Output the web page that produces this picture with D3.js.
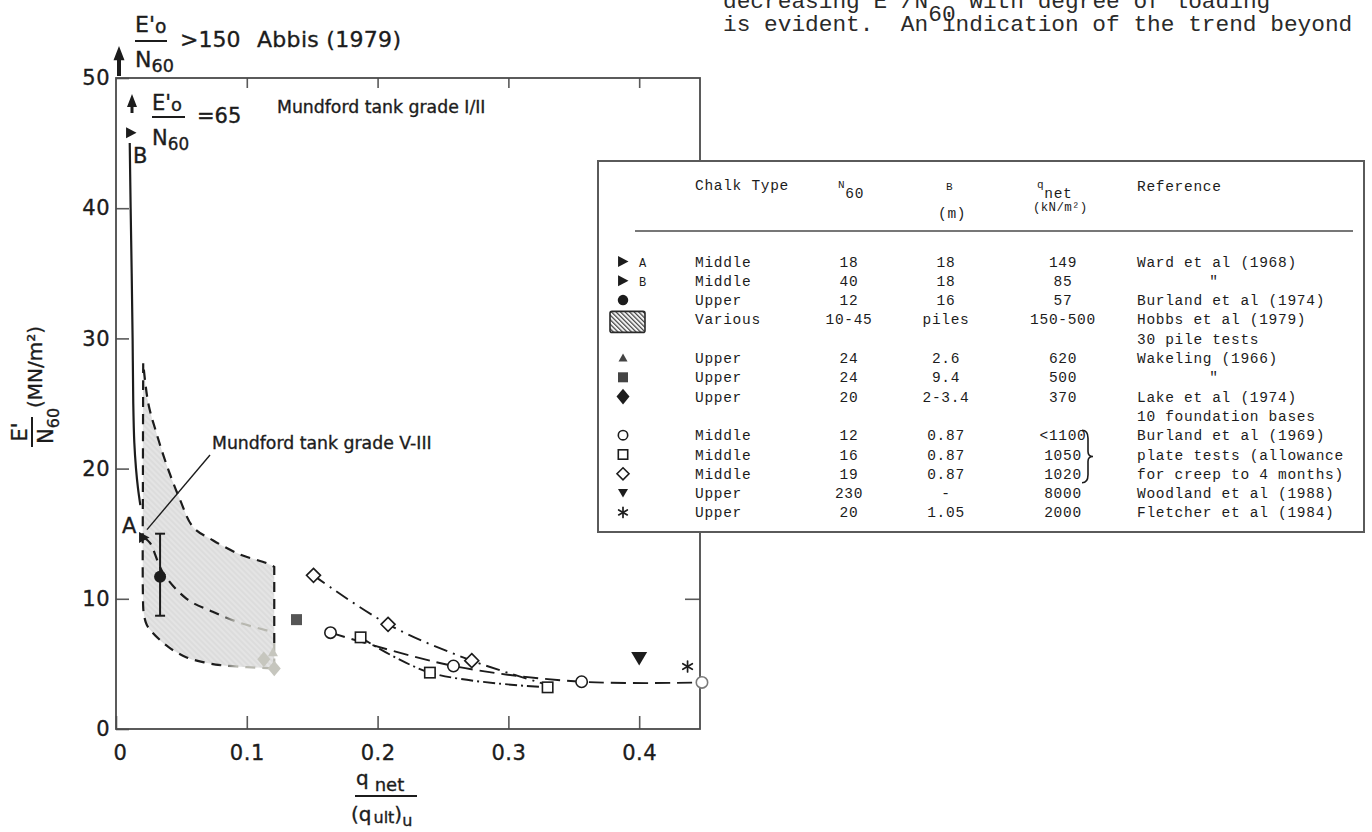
<!DOCTYPE html>
<html>
<head>
<meta charset="utf-8">
<title>E'/N60 against degree of loading</title>
<script src="https://cdn.jsdelivr.net/npm/d3@7"></script>
<style>
  html, body { margin: 0; padding: 0; background: #fff; }
  svg { display: block; }
  .mono { font-family: "Liberation Mono", "DejaVu Sans Mono", monospace; white-space: pre; }
  .sans { font-family: "DejaVu Sans", "Liberation Sans", sans-serif; }
  .heavy text { stroke: #1c1c1c; stroke-width: 0.35px; }
</style>
</head>
<body>
<svg id="fig" width="1372" height="832"></svg>
<script>
// ---------- axis ticks ----------
const xLabelValues = [0, 0.1, 0.2, 0.3, 0.4];
const xTickLabels = ["0", "0.1", "0.2", "0.3", "0.4"];
const yLabelValues = [0, 10, 20, 30, 40, 50];
const yTickLabels = ["0", "10", "20", "30", "40", "50"];

// ---------- series: q_net/(q_ult)_u against E'/N60 ----------
// Ward et al (1968), footing B trend (solid)
const wardCurveQ = [0.0105, 0.0112, 0.0120, 0.0127, 0.0132, 0.0140, 0.0153, 0.0168, 0.0186];
const wardCurveE = [45.0, 40.0, 35.0, 30.0, 25.0, 22.0, 20.0, 18.5, 17.2];
const wardAQ = [0.0214], wardAE = [14.7];
const wardBQ = [0.0115], wardBE = [45.8];

// Burland et al (1974): mean with range
const burland74Q = [0.0337], burland74E = [11.7];
const burland74Low = [8.7], burland74High = [15.0];

// Hobbs et al (1979) pile tests: envelope of 30 tests
const hobbsLowerQ = [0.0208, 0.0206, 0.0206, 0.0212, 0.0235, 0.028, 0.040, 0.054, 0.068, 0.080, 0.100, 0.121];
const hobbsLowerE = [28.1, 20.0, 10.2, 8.9, 8.0, 7.4, 6.3, 5.5, 5.1, 4.9, 4.75, 4.65];
const hobbsRightQ = [0.121, 0.121, 0.121];
const hobbsRightE = [4.65, 6.6, 12.45];
const hobbsUpperQ = [0.121, 0.115, 0.095, 0.074, 0.059, 0.049, 0.039, 0.031, 0.0247, 0.0208];
const hobbsUpperE = [12.45, 12.75, 13.4, 14.5, 15.5, 17.6, 20.2, 22.7, 25.0, 28.1];

// Mundford tank grade V-III trend (dashed)
const mundfordQ = [0.0214, 0.026, 0.036, 0.054, 0.074, 0.095, 0.120];
const mundfordE = [14.7, 14.3, 12.0, 10.0, 9.0, 8.15, 7.45];

// Wakeling (1966)
const wakelingTriQ = [0.120], wakelingTriE = [5.9];
const wakelingSqQ = [0.138], wakelingSqE = [8.4];
// Lake et al (1974)
const lakeQ = [0.113, 0.121], lakeE = [5.35, 4.65];

// Burland et al (1969) plate tests
const circleQ = [0.164, 0.258, 0.356, 0.448], circleE = [7.4, 4.84, 3.63, 3.58];
const squareQ = [0.187, 0.240, 0.330], squareE = [7.04, 4.33, 3.2];
const diamondQ = [0.151, 0.208, 0.272], diamondE = [11.8, 8.04, 5.25];
const diamondTrendQ = [0.151, 0.208, 0.272, 0.328], diamondTrendE = [11.8, 8.04, 5.25, 3.45];

// Woodland et al (1988), Fletcher et al (1984)
const woodlandQ = [0.400], woodlandE = [5.43];
const fletcherQ = [0.437], fletcherE = [4.8];

// ---------- table ----------
const tableSymbols = ["triR", "triR", "circleF", "hatch", "triU", "squareF", "diamondF",
                      "circleO", "squareO", "diamondO", "triD", "star"];
const tableTags = ["A", "B", "", "", "", "", "", "", "", "", "", ""];
const chalkTypes = ["Middle", "Middle", "Upper", "Various", "Upper", "Upper", "Upper",
                    "Middle", "Middle", "Middle", "Upper", "Upper"];
const n60Values = ["18", "40", "12", "10-45", "24", "24", "20", "12", "16", "19", "230", "20"];
const widthValues = ["18", "18", "16", "piles", "2.6", "9.4", "2-3.4", "0.87", "0.87", "0.87", "-", "1.05"];
const qNetValues = ["149", "85", "57", "150-500", "620", "500", "370", "<1100", "1050", "1020", "8000", "2000"];
const references = [
  ["Ward et al (1968)"], ["\""], ["Burland et al (1974)"], ["Hobbs et al (1979)", "30 pile tests"],
  ["Wakeling (1966)"], ["\""], ["Lake et al (1974)", "10 foundation bases"],
  ["Burland et al (1969)"], ["plate tests (allowance"], ["for creep to 4 months)"],
  ["Woodland et al (1988)"], ["Fletcher et al (1984)"]
];

// ---------- setup ----------
const zip = (a, b) => a.map((v, i) => [v, b[i]]);
const INK = "#1c1c1c", FADED = "#b8b8b0", GREY = "#4a4a4a";
const svg = d3.select("#fig");
const defs = svg.append("defs");

const x = d3.scaleLinear().domain([0, 0.4465]).range([116, 700]);
const y = d3.scaleLinear().domain([0, 50]).range([729, 78]);
const smooth = d3.line().x(d => x(d[0])).y(d => y(d[1])).curve(d3.curveCatmullRom.alpha(0.5));
const straight = d3.line().x(d => x(d[0])).y(d => y(d[1]));

// patterns and gradient
const hatchLegend = defs.append("pattern").attr("id", "hatchLegend")
  .attr("patternUnits", "userSpaceOnUse").attr("width", 3.2).attr("height", 3.2)
  .attr("patternTransform", "rotate(-45)");
hatchLegend.append("rect").attr("width", 3.2).attr("height", 3.2).attr("fill", "#f4f4f4");
hatchLegend.append("line").attr("x1", 0.6).attr("x2", 0.6).attr("y1", 0).attr("y2", 3.2)
  .attr("stroke", "#333").attr("stroke-width", 1.1);

const hatchArea = defs.append("pattern").attr("id", "hatchArea")
  .attr("patternUnits", "userSpaceOnUse").attr("width", 4).attr("height", 4)
  .attr("patternTransform", "rotate(-45)");
hatchArea.append("rect").attr("width", 4).attr("height", 4).attr("fill", "#e4e4e4");
hatchArea.append("line").attr("x1", 1).attr("x2", 1).attr("y1", 0).attr("y2", 4)
  .attr("stroke", "#d4d4d4").attr("stroke-width", 1);

const fade = defs.append("linearGradient").attr("id", "fade")
  .attr("gradientUnits", "userSpaceOnUse")
  .attr("x1", x(0.078)).attr("x2", x(0.092)).attr("y1", 0).attr("y2", 0);
fade.append("stop").attr("offset", 0).attr("stop-color", INK);
fade.append("stop").attr("offset", 1).attr("stop-color", FADED);

// ---------- mark drawing ----------
function drawMark(g, type, cx, cy, s, fill, stroke) {
  const sw = 1.6;
  const h = s / 2;
  switch (type) {
    case "triR":
      g.append("path").attr("d", `M${cx - h * 0.9},${cy - h} L${cx + h},${cy} L${cx - h * 0.9},${cy + h}Z`)
        .attr("fill", fill); break;
    case "triU":
      g.append("path").attr("d", `M${cx},${cy - h} L${cx + h},${cy + h * 0.8} L${cx - h},${cy + h * 0.8}Z`)
        .attr("fill", fill); break;
    case "triD":
      g.append("path").attr("d", `M${cx - h},${cy - h * 0.8} L${cx + h},${cy - h * 0.8} L${cx},${cy + h * 0.9}Z`)
        .attr("fill", fill); break;
    case "circleF":
      g.append("circle").attr("cx", cx).attr("cy", cy).attr("r", h).attr("fill", fill); break;
    case "circleO":
      g.append("circle").attr("cx", cx).attr("cy", cy).attr("r", h - 0.8)
        .attr("fill", "#fff").attr("stroke", stroke).attr("stroke-width", sw); break;
    case "squareF":
      g.append("rect").attr("x", cx - h).attr("y", cy - h).attr("width", s).attr("height", s)
        .attr("fill", fill); break;
    case "squareO":
      g.append("rect").attr("x", cx - h + 0.8).attr("y", cy - h + 0.8).attr("width", s - 1.6).attr("height", s - 1.6)
        .attr("fill", "#fff").attr("stroke", stroke).attr("stroke-width", sw); break;
    case "diamondF":
      g.append("path").attr("d", `M${cx},${cy - h * 1.2} L${cx + h},${cy} L${cx},${cy + h * 1.2} L${cx - h},${cy}Z`)
        .attr("fill", fill); break;
    case "diamondO":
      g.append("path").attr("d", `M${cx},${cy - h} L${cx + h},${cy} L${cx},${cy + h} L${cx - h},${cy}Z`)
        .attr("fill", "#fff").attr("stroke", stroke).attr("stroke-width", sw); break;
    case "star": {
      const a = g.append("g").attr("stroke", stroke).attr("stroke-width", 1.7).attr("stroke-linecap", "round");
      [90, 30, 150].forEach(deg => {
        const r = deg * Math.PI / 180;
        a.append("line").attr("x1", cx - h * Math.cos(r)).attr("y1", cy - h * Math.sin(r))
          .attr("x2", cx + h * Math.cos(r)).attr("y2", cy + h * Math.sin(r));
      });
      break;
    }
  }
}

// ---------- axes and frame ----------
const axisFont = g => g.attr("font-family", "DejaVu Sans, Liberation Sans, sans-serif")
  .attr("font-size", 21).attr("fill", INK);

const gBottom = svg.append("g").attr("transform", `translate(0,${y(0)})`)
  .call(d3.axisBottom(x).tickValues(xLabelValues).tickSize(-13).tickPadding(16)
    .tickFormat((d, i) => xTickLabels[i]));
const gLeft = svg.append("g").attr("transform", `translate(${x(0)},0)`)
  .call(d3.axisLeft(y).tickValues(yLabelValues).tickSize(-13).tickPadding(6)
    .tickFormat((d, i) => yTickLabels[i]));
const gTop = svg.append("g").attr("transform", `translate(0,${y(50)})`)
  .call(d3.axisTop(x).tickValues(xLabelValues.slice(1)).tickSize(-10).tickFormat(() => ""));
const gRight = svg.append("g").attr("transform", `translate(${x(0.4465)},0)`)
  .call(d3.axisRight(y).tickValues(yLabelValues.slice(1, 5)).tickSize(-15).tickFormat(() => ""));

[gBottom, gLeft, gTop, gRight].forEach(g => {
  g.select(".domain").remove();
  g.attr("class", "heavy");
  g.selectAll(".tick line").attr("stroke", "#5a5a5a").attr("stroke-width", 1.6);
  g.call(axisFont);
  g.selectAll(".tick text").attr("fill", INK).attr("letter-spacing", 0.5);
});
gBottom.selectAll(".tick text").filter(d => d === 0).attr("dx", 4);

svg.append("rect")
  .attr("x", x(0)).attr("y", y(50))
  .attr("width", x(0.4465) - x(0)).attr("height", y(0) - y(50))
  .attr("fill", "none").attr("stroke", GREY).attr("stroke-width", 1.8);

// ---------- plot content ----------
const plot = svg.append("g");
const hobbsLower = zip(hobbsLowerQ, hobbsLowerE);
const hobbsRight = zip(hobbsRightQ, hobbsRightE);
const hobbsUpper = zip(hobbsUpperQ, hobbsUpperE);
const joinPath = d => d.replace(/^M/, "L");

// shaded envelope of the pile tests
plot.append("path")
  .attr("d", smooth(hobbsLower) + joinPath(straight(hobbsRight)) + joinPath(smooth(hobbsUpper)) + "Z")
  .attr("fill", "url(#hatchArea)").attr("stroke", "none");

const dashOutline = "10,7";
plot.append("path").attr("d", smooth(hobbsLower))
  .attr("fill", "none").attr("stroke", "url(#fade)").attr("stroke-width", 2.2).attr("stroke-dasharray", dashOutline);
plot.append("path").attr("d", straight(hobbsRight.slice(0, 2)))
  .attr("fill", "none").attr("stroke", FADED).attr("stroke-width", 2.2).attr("stroke-dasharray", dashOutline);
plot.append("path").attr("d", straight(hobbsRight.slice(1)) + joinPath(smooth(hobbsUpper)))
  .attr("fill", "none").attr("stroke", INK).attr("stroke-width", 2.2).attr("stroke-dasharray", dashOutline);

// Mundford grade V-III trend
plot.append("path").attr("d", smooth(zip(mundfordQ, mundfordE)))
  .attr("fill", "none").attr("stroke", "url(#fade)").attr("stroke-width", 2.2).attr("stroke-dasharray", "10,7");

// Ward B solid trend
plot.append("path").attr("d", smooth(zip(wardCurveQ, wardCurveE)))
  .attr("fill", "none").attr("stroke", INK).attr("stroke-width", 2.2);

// Burland (1969) curves
plot.append("path").attr("d", smooth(zip(circleQ, circleE)))
  .attr("fill", "none").attr("stroke", INK).attr("stroke-width", 1.9).attr("stroke-dasharray", "15,7");
plot.append("path").attr("d", smooth(zip(squareQ, squareE)))
  .attr("fill", "none").attr("stroke", INK).attr("stroke-width", 1.9).attr("stroke-dasharray", "12,4,2,4");
plot.append("path").attr("d", smooth(zip(diamondTrendQ, diamondTrendE)))
  .attr("fill", "none").attr("stroke", INK).attr("stroke-width", 1.9).attr("stroke-dasharray", "14,6,2,6");

// Burland (1974) range bar
burland74Q.forEach((q, i) => {
  const bx = x(q);
  const bar = plot.append("g").attr("stroke", INK).attr("stroke-width", 2);
  bar.append("line").attr("x1", bx).attr("x2", bx).attr("y1", y(burland74Low[i])).attr("y2", y(burland74High[i]));
  bar.append("line").attr("x1", bx - 5).attr("x2", bx + 5).attr("y1", y(burland74Low[i])).attr("y2", y(burland74Low[i]));
  bar.append("line").attr("x1", bx - 5).attr("x2", bx + 5).attr("y1", y(burland74High[i])).attr("y2", y(burland74High[i]));
  drawMark(plot, "circleF", bx, y(burland74E[i]), 12, INK, INK);
});

// point marks
wardAQ.forEach((q, i) => drawMark(plot, "triR", x(q), y(wardAE[i]), 11, INK, INK));
wardBQ.forEach((q, i) => drawMark(plot, "triR", x(q), y(wardBE[i]), 11, INK, INK));
wakelingSqQ.forEach((q, i) => drawMark(plot, "squareF", x(q), y(wakelingSqE[i]), 11, "#555", "#555"));
lakeQ.forEach((q, i) => drawMark(plot, "diamondF", x(q), y(lakeE[i]), 13, "#c6c6be", "#c6c6be"));
wakelingTriQ.forEach((q, i) => drawMark(plot, "triU", x(q), y(wakelingTriE[i]), 10, "#c6c6be", "#c6c6be"));
circleQ.forEach((q, i) => drawMark(plot, "circleO", x(q), y(circleE[i]), 13,
  null, i === circleQ.length - 1 ? "#7a7a7a" : INK));
squareQ.forEach((q, i) => drawMark(plot, "squareO", x(q), y(squareE[i]), 12, null, INK));
diamondQ.forEach((q, i) => drawMark(plot, "diamondO", x(q), y(diamondE[i]), 14, null, INK));
woodlandQ.forEach((q, i) => drawMark(plot, "triD", x(q), y(woodlandE[i]), 16, INK, INK));
fletcherQ.forEach((q, i) => drawMark(plot, "star", x(q), y(fletcherE[i]), 11, INK, INK));

// ---------- annotations ----------
const ann = svg.append("g").attr("class", "sans heavy").attr("fill", INK);

// upward arrows marking values off the scale
function upArrow(cx, top, len, head, shaft) {
  ann.append("path")
    .attr("d", `M${cx},${top} L${cx + head / 2},${top + head * 1.3} L${cx + shaft / 2},${top + head * 1.3}
                L${cx + shaft / 2},${top + len} L${cx - shaft / 2},${top + len} L${cx - shaft / 2},${top + head * 1.3}
                L${cx - head / 2},${top + head * 1.3}Z`)
    .attr("fill", INK);
}
upArrow(119, 46, 30, 11, 4);
upArrow(132, 94, 19, 10, 3);

function fraction(x0, yNum, yBar, yDen, barLen, size) {
  const t1 = ann.append("text").attr("x", x0).attr("y", yNum).attr("font-size", size);
  t1.append("tspan").text("E'");
  t1.append("tspan").attr("font-size", size * 0.85).attr("dy", 1).text("o");
  ann.append("line").attr("x1", x0).attr("x2", x0 + barLen).attr("y1", yBar).attr("y2", yBar)
    .attr("stroke", INK).attr("stroke-width", 2);
  const t2 = ann.append("text").attr("x", x0).attr("y", yDen).attr("font-size", size);
  t2.append("tspan").text("N");
  t2.append("tspan").attr("font-size", size * 0.8).attr("dy", 5).text("60");
}
fraction(135, 32, 41, 67, 32, 22);
ann.append("text").attr("x", 180).attr("y", 47).attr("font-size", 22).text(">150");
ann.append("text").attr("x", 257).attr("y", 47).attr("font-size", 22).attr("letter-spacing", 0.3).text("Abbis (1979)");

fraction(152, 110, 117, 145, 33, 21);
ann.append("text").attr("x", 197).attr("y", 123).attr("font-size", 21).text("=65");

ann.append("text").attr("x", 277).attr("y", 113).attr("font-size", 17.3).text("Mundford tank grade I/II");
ann.append("text").attr("x", 212).attr("y", 449).attr("font-size", 17.3).text("Mundford tank grade V-III");
ann.append("line").attr("x1", 210).attr("y1", 455).attr("x2", x(wardAQ[0]) + 3).attr("y2", y(wardAE[0]) - 8)
  .attr("stroke", INK).attr("stroke-width", 1.4);

ann.append("text").attr("x", 133).attr("y", 163).attr("font-size", 21).text("B");
ann.append("text").attr("x", 122).attr("y", 533).attr("font-size", 21).text("A");

// y axis title (rotated)
const yt = ann.append("g").attr("transform", "translate(36,400) rotate(-90)");
yt.append("text").attr("x", -8).attr("y", 6).attr("font-size", 20).text("(MN/m²)");
yt.append("text").attr("x", -32).attr("y", -9).attr("font-size", 21).attr("text-anchor", "middle").text("E'");
yt.append("line").attr("x1", -47).attr("x2", -17).attr("y1", -4).attr("y2", -4)
  .attr("stroke", INK).attr("stroke-width", 2);
const ytN = yt.append("text").attr("x", -44).attr("y", 17).attr("font-size", 21);
ytN.append("tspan").text("N");
ytN.append("tspan").attr("font-size", 16).attr("dy", 6).text("60");

// x axis title
const xt1 = ann.append("text").attr("x", 356).attr("y", 785).attr("font-size", 20);
xt1.append("tspan").text("q");
xt1.append("tspan").attr("font-size", 18).attr("dx", 6).attr("dy", 6).text("net");
ann.append("line").attr("x1", 355).attr("x2", 417).attr("y1", 796).attr("y2", 796)
  .attr("stroke", INK).attr("stroke-width", 2);
const xt2 = ann.append("text").attr("x", 351).attr("y", 821).attr("font-size", 20);
xt2.append("tspan").text("(q");
xt2.append("tspan").attr("font-size", 16).attr("dx", 2).attr("dy", 2).text("ult");
xt2.append("tspan").attr("dy", -2).text(")");
xt2.append("tspan").attr("font-size", 16).attr("dy", 5).text("u");

// ---------- data table ----------
const tbl = svg.append("g");
tbl.append("rect").attr("x", 598).attr("y", 161).attr("width", 766).attr("height", 371)
  .attr("fill", "#fff").attr("stroke", "#5a5a5a").attr("stroke-width", 2);

const mono = tbl.append("g").attr("class", "mono").attr("fill", INK).attr("font-size", 14.5).attr("letter-spacing", 0.7);
const monoText = (g, xx, yy) => g.append("text").attr("xml:space", "preserve").attr("x", xx).attr("y", yy);
monoText(mono, 695, 190).text("Chalk Type");
const hN = monoText(mono, 838, 188);
hN.append("tspan").attr("font-size", 11).text("N");
hN.append("tspan").attr("dy", 10).text("60");
monoText(mono, 946, 190).attr("font-size", 11).text("B");
monoText(mono, 938, 218).text("(m)");
const hQ = monoText(mono, 1037, 188);
hQ.append("tspan").attr("font-size", 11).text("q");
hQ.append("tspan").attr("dy", 10).text("net");
monoText(mono, 1033, 211).attr("font-size", 12.5).attr("letter-spacing", 0.3).text("(kN/m²)");
monoText(mono, 1137, 191).text("Reference");
tbl.append("line").attr("x1", 635).attr("x2", 1353).attr("y1", 231).attr("y2", 231)
  .attr("stroke", "#777").attr("stroke-width", 2);

const base0 = 266.5, lineStep = 19.3;
const markSizes = { triR: 11, circleF: 10.5, triU: 9, squareF: 10, diamondF: 13, circleO: 11, squareO: 11, diamondO: 12, triD: 10, star: 10 };
let lineNo = 0;
chalkTypes.forEach((ct, i) => {
  const by = base0 + lineNo * lineStep;
  const sy = by - 5;
  if (tableSymbols[i] === "hatch") {
    tbl.append("rect").attr("x", 610).attr("y", sy - 8).attr("width", 35).attr("height", 21).attr("rx", 2)
      .attr("fill", "url(#hatchLegend)").attr("stroke", "#2a2a2a").attr("stroke-width", 1.6);
  } else {
    const greyMark = tableSymbols[i] === "triU" || tableSymbols[i] === "squareF";
    drawMark(tbl, tableSymbols[i], 623, sy, markSizes[tableSymbols[i]], greyMark ? "#444" : INK, INK);
  }
  if (tableTags[i]) monoText(mono, 639, by).attr("font-size", 12).text(tableTags[i]);
  monoText(mono, 695, by).text(ct);
  monoText(mono, 849, by).attr("text-anchor", "middle").text(n60Values[i]);
  monoText(mono, 946, by).attr("text-anchor", "middle").text(widthValues[i]);
  monoText(mono, 1063, by).attr("text-anchor", "middle").text(qNetValues[i]);
  references[i].forEach((ref, k) => {
    const ry = base0 + (lineNo + k) * lineStep;
    if (ref === "\"") monoText(mono, 1214, ry).attr("text-anchor", "middle").text(ref);
    else monoText(mono, 1137, ry).text(ref);
  });
  lineNo += references[i].length;
});

// brace grouping the three plate-test rows
{
  const top = base0 + 9 * lineStep - 10, bot = base0 + 11 * lineStep + 4, mid = (top + bot) / 2, x0 = 1082;
  tbl.append("path")
    .attr("d", `M${x0},${top} Q${x0 + 6},${top} ${x0 + 6},${top + 8} L${x0 + 6},${mid - 5}
                Q${x0 + 6},${mid} ${x0 + 11},${mid} Q${x0 + 6},${mid} ${x0 + 6},${mid + 5}
                L${x0 + 6},${bot - 8} Q${x0 + 6},${bot} ${x0},${bot}`)
    .attr("fill", "none").attr("stroke", INK).attr("stroke-width", 1.6);
}

// ---------- running text above ----------
const para = svg.append("g").attr("class", "mono").attr("font-size", 22.8).attr("fill", "#2a2a2a");
const l1 = para.append("text").attr("xml:space", "preserve").attr("x", 723).attr("y", 8);
l1.append("tspan").text("decreasing E'/N");
l1.append("tspan").attr("dy", 13).text("60");
l1.append("tspan").attr("dy", -13).text(" with degree of loading");
para.append("text").attr("xml:space", "preserve").attr("x", 723).attr("y", 31)
  .text("is evident.  An indication of the trend beyond");
</script>
</body>
</html>
